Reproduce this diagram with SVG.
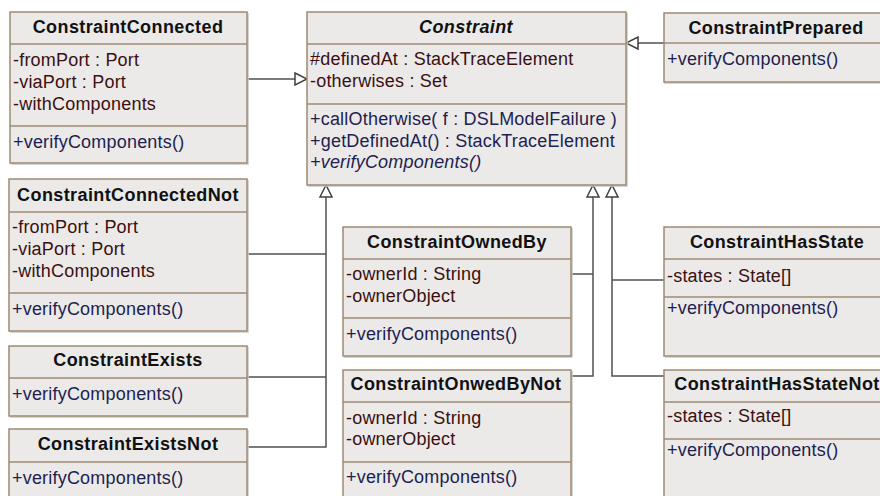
<svg xmlns="http://www.w3.org/2000/svg" width="880" height="496" viewBox="0 0 880 496">
<style>
.box{fill:#EBEAE9;stroke:#9E8A73;stroke-width:1.5}
.sh{fill:none;stroke:#C8C8C8;stroke-width:1.5}
.sep{stroke:#9E8A73;stroke-width:1.5}
text{font-family:"Liberation Sans",Arial,sans-serif;font-size:18px}
.t{font-weight:bold;fill:#111;text-anchor:middle;letter-spacing:0.4px}
.a{fill:#3C1010;letter-spacing:0.2px}
.m{fill:#1E1E50;letter-spacing:0.2px}
.i{font-style:italic}
.con{fill:none;stroke:#505050;stroke-width:1.5}
</style>
<defs>
<marker id="gen" viewBox="0 0 14 14" refX="13" refY="7" markerWidth="14" markerHeight="14" markerUnits="userSpaceOnUse" orient="auto">
<path d="M1,1 L13,7 L1,13 Z" fill="#fff" stroke="#404040" stroke-width="1.5"/>
</marker>
</defs>
<rect width="880" height="496" fill="#fff"/>

<g id="connectors">
<path class="con" d="M247,79 H307" marker-end="url(#gen)"/>
<path class="con" d="M664,43 H626" marker-end="url(#gen)"/>
<path class="con" d="M247,447 H326 V185" marker-end="url(#gen)"/>
<path class="con" d="M247,254 H326"/>
<path class="con" d="M247,377 H326"/>
<path class="con" d="M571,376 H593 V185" marker-end="url(#gen)"/>
<path class="con" d="M571,274 H593"/>
<path class="con" d="M664,376 H612 V185" marker-end="url(#gen)"/>
<path class="con" d="M664,280 H612"/>
</g>

<g id="Constraint">
<path class="sh" d="M627,13 V186 H308"/>
<rect class="box" x="307" y="12" width="319" height="173"/>
<line class="sep" x1="307" y1="44" x2="626" y2="44"/>
<line class="sep" x1="307" y1="104" x2="626" y2="104"/>
<text class="t i" x="466" y="33">Constraint</text>
<text class="a" x="310" y="65">#definedAt : StackTraceElement</text>
<text class="a" x="310" y="87">-otherwises : Set</text>
<text class="m" x="310" y="125">+callOtherwise( f : DSLModelFailure )</text>
<text class="m" x="310" y="147">+getDefinedAt() : StackTraceElement</text>
<text class="m i" x="310" y="168">+verifyComponents()</text>
</g>

<g id="ConstraintConnected">
<path class="sh" d="M248,13 V164 H11"/>
<rect class="box" x="10" y="12" width="237" height="151"/>
<line class="sep" x1="10" y1="44" x2="247" y2="44"/>
<line class="sep" x1="10" y1="126" x2="247" y2="126"/>
<text class="t" x="128" y="33">ConstraintConnected</text>
<text class="a" x="13" y="66">-fromPort : Port</text>
<text class="a" x="13" y="88">-viaPort : Port</text>
<text class="a" x="13" y="110">-withComponents</text>
<text class="m" x="13" y="148">+verifyComponents()</text>
</g>

<g id="ConstraintPrepared">
<path class="sh" d="M664,83 H889"/>
<rect class="box" x="664" y="13" width="224" height="69"/>
<line class="sep" x1="664" y1="43" x2="888" y2="43"/>
<text class="t" x="776" y="34">ConstraintPrepared</text>
<text class="m" x="667" y="65">+verifyComponents()</text>
</g>

<g id="ConstraintConnectedNot">
<path class="sh" d="M248,180 V332 H10"/>
<rect class="box" x="9" y="179" width="238" height="152"/>
<line class="sep" x1="9" y1="212" x2="247" y2="212"/>
<line class="sep" x1="9" y1="293" x2="247" y2="293"/>
<text class="t" x="128" y="201">ConstraintConnectedNot</text>
<text class="a" x="12" y="233">-fromPort : Port</text>
<text class="a" x="12" y="255">-viaPort : Port</text>
<text class="a" x="12" y="277">-withComponents</text>
<text class="m" x="12" y="315">+verifyComponents()</text>
</g>

<g id="ConstraintExists">
<path class="sh" d="M248,347 V417 H10"/>
<rect class="box" x="9" y="346" width="238" height="70"/>
<line class="sep" x1="9" y1="378" x2="247" y2="378"/>
<text class="t" x="128" y="366">ConstraintExists</text>
<text class="m" x="12" y="400">+verifyComponents()</text>
</g>

<g id="ConstraintExistsNot">
<path class="sh" d="M248,430 V500"/>
<rect class="box" x="9" y="429" width="238" height="80"/>
<line class="sep" x1="9" y1="462" x2="247" y2="462"/>
<text class="t" x="128" y="450">ConstraintExistsNot</text>
<text class="m" x="12" y="484">+verifyComponents()</text>
</g>

<g id="ConstraintOwnedBy">
<path class="sh" d="M572,228 V357 H344"/>
<rect class="box" x="343" y="227" width="228" height="129"/>
<line class="sep" x1="343" y1="259" x2="571" y2="259"/>
<line class="sep" x1="343" y1="318" x2="571" y2="318"/>
<text class="t" x="457" y="248">ConstraintOwnedBy</text>
<text class="a" x="346" y="280">-ownerId : String</text>
<text class="a" x="346" y="302">-ownerObject</text>
<text class="m" x="346" y="340">+verifyComponents()</text>
</g>

<g id="ConstraintOnwedByNot">
<path class="sh" d="M572,371 V500"/>
<rect class="box" x="343" y="370" width="228" height="140"/>
<line class="sep" x1="343" y1="402" x2="571" y2="402"/>
<line class="sep" x1="343" y1="462" x2="571" y2="462"/>
<text class="t" x="456" y="390">ConstraintOnwedByNot</text>
<text class="a" x="346" y="424">-ownerId : String</text>
<text class="a" x="346" y="445">-ownerObject</text>
<text class="m" x="346" y="483">+verifyComponents()</text>
</g>

<g id="ConstraintHasState">
<path class="sh" d="M665,357 H890"/>
<rect class="box" x="664" y="227" width="226" height="129"/>
<line class="sep" x1="664" y1="259" x2="890" y2="259"/>
<line class="sep" x1="664" y1="297" x2="890" y2="297"/>
<text class="t" x="777" y="248">ConstraintHasState</text>
<text class="a" x="667" y="282">-states : State[]</text>
<text class="m" x="667" y="314">+verifyComponents()</text>
</g>

<g id="ConstraintHasStateNot">
<rect class="box" x="664" y="370" width="226" height="140"/>
<line class="sep" x1="664" y1="402" x2="890" y2="402"/>
<line class="sep" x1="664" y1="439" x2="890" y2="439"/>
<text class="t" x="777" y="390">ConstraintHasStateNot</text>
<text class="a" x="667" y="422">-states : State[]</text>
<text class="m" x="667" y="456">+verifyComponents()</text>
</g>
</svg>
